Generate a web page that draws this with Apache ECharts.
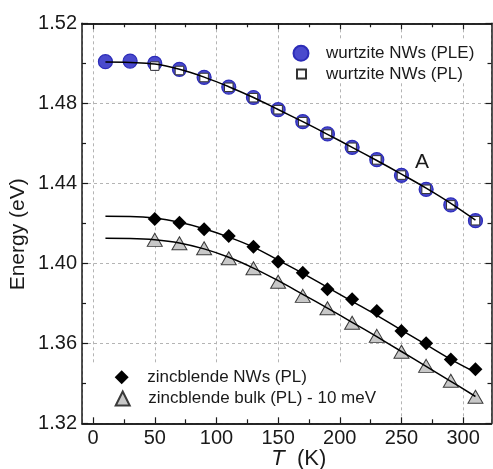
<!DOCTYPE html>
<html>
<head>
<meta charset="utf-8">
<script src="https://cdn.jsdelivr.net/npm/echarts@6/dist/echarts.min.js"></script>
<style>
  html, body { margin: 0; padding: 0; background: #fff; }
  #chart { width: 493px; height: 469px; }
</style>
</head>
<body>
<div id="chart"></div>
<script>
// Temperatures (K)
const tempsAll = [10, 30, 50, 70, 90, 110, 130, 150, 170, 190, 210, 230, 250, 270, 290, 310];
const tempsPL  = [50, 70, 90, 110, 130, 150, 170, 190, 210, 230, 250, 270, 290, 310];

// Measured transition energies (eV)
const wurtzitePLE = [1.5008, 1.5011, 1.5000, 1.4970, 1.4930, 1.4881, 1.4829, 1.4768, 1.4708, 1.4647, 1.4580, 1.4518, 1.4440, 1.4370, 1.4292, 1.4213];
const wurtzitePL  = [1.4986, 1.4964, 1.4929, 1.4880, 1.4828, 1.4768, 1.4708, 1.4646, 1.4580, 1.4517, 1.4441, 1.4370, 1.4292, 1.4213];
const zincblendeNW   = [1.4222, 1.4203, 1.4170, 1.4136, 1.4083, 1.4008, 1.3953, 1.3870, 1.3820, 1.3762, 1.3662, 1.3600, 1.3519, 1.3470];
const zincblendeBulk = [1.4117, 1.4100, 1.4075, 1.4025, 1.3975, 1.3908, 1.3837, 1.3775, 1.3703, 1.3637, 1.3558, 1.3487, 1.3413, 1.3333];

// Fitted curves sampled on tempsAll
const fitWurtzite   = [1.5006, 1.5004, 1.4996, 1.4970, 1.4931, 1.4883, 1.4829, 1.4769, 1.4708, 1.4645, 1.4580, 1.4514, 1.4446, 1.4376, 1.4300, 1.4216];
const fitZincblende = [1.4235, 1.4234, 1.4226, 1.4205, 1.4173, 1.4131, 1.4081, 1.4016, 1.3950, 1.3880, 1.3810, 1.3740, 1.3666, 1.3593, 1.3520, 1.3455];
const fitBulk       = [1.4125, 1.4124, 1.4118, 1.4102, 1.4072, 1.4030, 1.3976, 1.3913, 1.3845, 1.3776, 1.3705, 1.3633, 1.3559, 1.3485, 1.3410, 1.3334];

// Axis ticks
const xMajorTicks = [0, 50, 100, 150, 200, 250, 300];
const xMinorTicks = [25, 75, 125, 175, 225, 275];

const names = {
  ple: 'wurtzite NWs (PLE)',
  pl: 'wurtzite NWs (PL)',
  zb: 'zincblende NWs (PL)',
  bulk: 'zincblende bulk (PL) - 10 meV'
};

const FONT = "'Liberation Sans', Arial, sans-serif";
const INK = '#1a1a1a';
const X_MIN = -9, X_MAX = 323;
const Y_MIN = 1.32, Y_MAX = 1.52, Y_STEP = 0.04;

const pairs = (xs, ys) => xs.map((x, i) => [x, ys[i]]);

const frameLine = { show: true, onZero: false, lineStyle: { color: INK, width: 1.5 } };
const hidden = { show: false };

function xFrame(position, ticks, len, withLabels) {
  return {
    type: 'value', min: X_MIN, max: X_MAX, position, z: 3,
    axisLine: frameLine,
    axisTick: { show: true, inside: true, length: len, customValues: ticks, lineStyle: { color: INK, width: 1.2 } },
    axisLabel: withLabels
      ? { show: true, customValues: ticks, fontSize: 20, color: INK, fontFamily: FONT, margin: 5 }
      : hidden,
    splitLine: hidden
  };
}

function yFrame(position, withLabels) {
  return {
    type: 'value', min: Y_MIN, max: Y_MAX, interval: Y_STEP, position, z: 3,
    axisLine: frameLine,
    axisTick: { show: true, inside: true, length: 6, lineStyle: { color: INK, width: 1.2 } },
    minorTick: { show: true, splitNumber: 2, length: 4, lineStyle: { color: INK, width: 1.2 } },
    axisLabel: withLabels
      ? { show: true, fontSize: 20, color: INK, fontFamily: FONT, margin: 5, formatter: v => v.toFixed(2) }
      : hidden,
    splitLine: hidden
  };
}

const gridDash = { show: true, lineStyle: { color: '#b4b4b4', width: 1, type: [3, 3] } };

const xAxes = [
  // dashed grid only
  { type: 'value', min: X_MIN, max: X_MAX, z: 0, axisLine: { show: false, onZero: false }, axisTick: hidden, axisLabel: hidden, splitLine: gridDash },
  Object.assign(xFrame('bottom', xMajorTicks, 6, true), {
    name: '{i|T}  (K)', nameLocation: 'middle', nameGap: 25, nameMoveOverlap: false,
    nameTextStyle: {
      fontSize: 22, color: INK, fontFamily: FONT, padding: [0, 0, 0, 24],
      rich: { i: { fontStyle: 'italic', fontSize: 22, color: INK, fontFamily: FONT } }
    }
  }),
  xFrame('bottom', xMinorTicks, 4, false),
  xFrame('top', xMajorTicks, 6, false),
  xFrame('top', xMinorTicks, 4, false)
];

const yAxes = [
  { type: 'value', min: Y_MIN, max: Y_MAX, interval: Y_STEP, z: 0, axisLine: { show: false, onZero: false }, axisTick: hidden, axisLabel: hidden, splitLine: gridDash },
  Object.assign(yFrame('left', true), {
    name: 'Energy (eV)', nameLocation: 'middle', nameGap: 53, nameMoveOverlap: false,
    nameTextStyle: { fontSize: 21, color: INK, fontFamily: FONT, padding: [0, 22, 0, 0] }
  }),
  yFrame('right', false)
];

function fitLine(ys) {
  return {
    type: 'line', data: pairs(tempsAll, ys), smooth: 0.4, symbol: 'none', z: 4, silent: true,
    lineStyle: { color: '#000', width: 1.5 }
  };
}

// one legend per entry so each marker keeps its own size
function legendFor(name, cx, cy, size, gap) {
  return {
    data: [name], left: cx - size / 2, top: cy - 9, padding: 0, itemGap: 0,
    itemWidth: size, itemHeight: size, symbolKeepAspect: true,
    selectedMode: false, z: 5,
    textStyle: { fontSize: 17, color: INK, fontFamily: FONT, padding: [0, 0, 0, gap] }
  };
}

const chart = echarts.init(document.getElementById('chart'), null, { renderer: 'canvas' });
chart.setOption({
  animation: false,
  backgroundColor: '#fff',
  grid: { left: 82, right: 1.5, top: 23.3, bottom: 45.7, containLabel: false, outerBoundsMode: 'none' },
  xAxis: xAxes,
  yAxis: yAxes,
  legend: [
    legendFor(names.ple, 300, 53.8, 15, 12.5),
    legendFor(names.pl, 300.5, 74.5, 9, 15),
    legendFor(names.zb, 121.7, 377.8, 14, 13.6),
    legendFor(names.bulk, 121.7, 399, 14, 13.6)
  ],
  graphic: [
    // white panels behind the two legends
    { type: 'rect', z: 1, silent: true, shape: { x: 288, y: 40, width: 196, height: 42 }, style: { fill: '#fff' } },
    { type: 'rect', z: 1, silent: true, shape: { x: 83, y: 363, width: 309, height: 60 }, style: { fill: '#fff' } },
    { type: 'text', z: 5, silent: true, x: 422, y: 162,
      style: { text: 'A', fontSize: 21, fontFamily: FONT, fill: INK, align: 'center', verticalAlign: 'middle' } }
  ],
  series: [
    {
      name: names.ple, type: 'scatter', data: pairs(tempsAll, wurtzitePLE), symbol: 'circle', symbolSize: 14, z: 2,
      itemStyle: { color: '#4a4acd', borderColor: '#2c2cb8', borderWidth: 1.2, opacity: 1 }
    },
    {
      name: names.pl, type: 'scatter', data: pairs(tempsPL, wurtzitePL), symbol: 'rect', symbolSize: 8.5, z: 3,
      itemStyle: { color: '#ffffff', borderColor: '#333333', borderWidth: 1, opacity: 1 }
    },
    {
      name: names.zb, type: 'scatter', data: pairs(tempsPL, zincblendeNW), symbol: 'diamond', symbolSize: 14, z: 2,
      itemStyle: { color: '#000000', opacity: 1 }
    },
    {
      name: names.bulk, type: 'scatter', data: pairs(tempsPL, zincblendeBulk), symbol: 'triangle', symbolSize: [15, 13], z: 2,
      itemStyle: { color: '#c8c8c8', borderColor: '#3a3a3a', borderWidth: 1, opacity: 1 }
    },
    fitLine(fitWurtzite),
    fitLine(fitZincblende),
    fitLine(fitBulk)
  ]
});
</script>
</body>
</html>
